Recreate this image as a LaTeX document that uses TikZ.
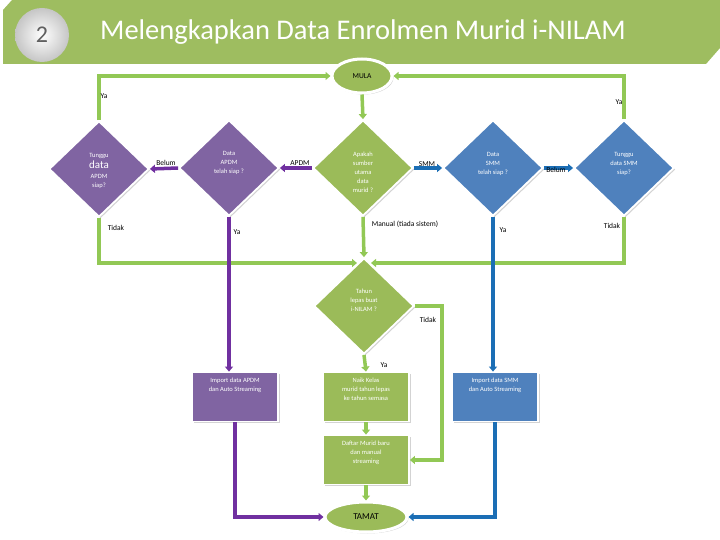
\documentclass[tikz,border=0pt]{standalone}
\usepackage{fontspec}
\setmainfont{Carlito}
\usetikzlibrary{shapes.geometric,arrows.meta,shadows}
\definecolor{bannergreen}{RGB}{158,189,96}
\definecolor{fillgreen}{RGB}{155,187,89}
\definecolor{fillpurple}{RGB}{128,100,162}
\definecolor{fillblue}{RGB}{79,129,189}
\definecolor{linegreen}{RGB}{146,200,85}
\definecolor{linepurple}{RGB}{112,48,160}
\definecolor{lineblue}{RGB}{27,110,181}
\tikzset{
  shp/.style={draw=white, line width=1.8pt, text=white, inner sep=0pt, align=center,
    font=\fontsize{6.5}{8.5}\selectfont,
    drop shadow={shadow xshift=1.5pt, shadow yshift=-1.5pt, opacity=0.35, fill=gray}},
  dia/.style={shp, diamond, minimum width=100pt, minimum height=96pt},
  box/.style={shp, rectangle, minimum width=86pt, minimum height=49pt},
  term/.style={shp, ellipse, fill=fillgreen, text=black, line width=3pt},
  conn/.style={line width=3.5pt, -{Triangle[width=8pt,length=5pt]}},
  gconn/.style={conn, linegreen},
  pconn/.style={conn, linepurple},
  bconn/.style={conn, lineblue},
  lbl/.style={font=\fontsize{7.5}{9}\selectfont, text=black, inner sep=0pt},
  txt/.style={text=white, align=center, inner sep=0pt, font=\fontsize{6.5}{9}\selectfont}
}
\begin{document}
\begin{tikzpicture}[x=1pt,y=-1pt]
\useasboundingbox (0,0) rectangle (720,540);
% banner
\fill[bannergreen] (3,10) -- (12,0) -- (720,0) -- (720,48) -- (706,64) -- (3,64) -- cycle;
\shade[inner color=white, outer color=gray!45] (42,35) circle (27pt);
\node[text=gray!75!black, font=\fontsize{24}{24}\selectfont] (num) at (42,35) {2};
\node[text=white, font=\fontsize{28.5}{28}\selectfont] (title) at (363,32) {Melengkapkan Data Enrolmen Murid i-NILAM};

% terminals
\node[term, minimum width=60pt, minimum height=34pt, font=\fontsize{7.5}{9}\selectfont] (mula) at (362,76) {MULA};
\node[term, minimum width=82pt, minimum height=30pt, font=\fontsize{9}{10}\selectfont] (tamat) at (366,517) {TAMAT};

% diamonds
\node[dia, fill=fillpurple] (ta) at (99,169) {};
\node[txt] (tat) at (99,171) {Tunggu\\[2pt]{\fontsize{11}{12}\selectfont data}\\[1pt]APDM\\siap?};
\node[dia, fill=fillpurple] (da) at (229,168) {};
\node[txt] (dat) at (229,163) {Data\\APDM\\telah siap ?};
\node[dia, fill=fillgreen] (ap) at (363,168) {};
\node[txt] (apt) at (363,172) {Apakah\\sumber\\utama\\data\\murid ?};
\node[dia, fill=fillblue] (ds) at (493,168) {};
\node[txt] (dst) at (493,164) {Data\\SMM\\telah siap ?};
\node[dia, fill=fillblue] (ts) at (624,168) {};
\node[txt] (tst) at (624,164) {Tunggu\\data SMM\\siap?};
\node[dia, fill=fillgreen] (th) at (364,306) {};
\node[txt] (tht) at (364,300) {Tahun\\lepas buat\\i-NILAM ?};

% boxes
\node[box, fill=fillpurple] (ia) at (235,397) {};
\node[txt, anchor=north] (iat) at (235,378) {Import data APDM\\dan Auto Streaming};
\node[box, fill=fillgreen] (nk) at (366,397) {};
\node[txt, anchor=north] (nkt) at (366,378) {Naik Kelas\\murid tahun lepas\\ke tahun semasa};
\node[box, fill=fillblue] (is) at (495,397) {};
\node[txt, anchor=north] (ist) at (495,378) {Import data SMM\\dan Auto Streaming};
\node[box, fill=fillgreen] (df) at (366,460) {};
\node[txt, anchor=north] (dft) at (366,441) {Daftar Murid baru\\dan manual\\streaming};

% coordinates
\coordinate (jl) at (357,263);
\coordinate (jr) at (371,263);
\coordinate (tk) at (442,306);

% green connectors
\draw[gconn] (mula.south) -- (ap.north);
\draw[gconn] (ta.north) |- (mula.west);
\draw[gconn] (ts.north) |- (mula.east);
\draw[gconn] (ta.south) |- (jl);
\draw[gconn] (ts.south) |- (jr);
\draw[gconn] (ap.south) -- (th.north);
\draw[gconn] (th.south) -- (nk.north);
\draw[gconn] (th.east) -- (tk) |- (df.east);
\draw[gconn] (nk.south) -- (df.north);
\draw[gconn] (df.south) -- (tamat.north);

% purple connectors
\draw[pconn] (ap.west) -- (da.east);
\draw[pconn] (da.west) -- (ta.east);
\draw[pconn] (da.south) -- (da.south |- ia.north);
\draw[pconn] (ia.south) |- (tamat.west);

% blue connectors
\draw[bconn] (ap.east) -- (ds.west);
\draw[bconn] (ds.east) -- (ts.west);
\draw[bconn] (ds.south) -- (ds.south |- is.north);
\draw[bconn] (is.south) |- (tamat.east);

% labels
\node[lbl] (l1) at (104,96) {Ya};
\node[lbl] (l2) at (619,102) {Ya};
\node[lbl] (l3) at (166,163) {Belum};
\node[lbl] (l4) at (300,163) {APDM};
\node[lbl] (l5) at (427,164) {SMM};
\node[lbl] (l6) at (556,170) {Belum};
\node[lbl] (l7) at (116,228) {Tidak};
\node[lbl] (l8) at (237,232) {Ya};
\node[lbl] (l9) at (405,224) {Manual (tiada sistem)};
\node[lbl] (l10) at (503,230) {Ya};
\node[lbl] (l11) at (612,226) {Tidak};
\node[lbl] (l12) at (428,320) {Tidak};
\node[lbl] (l13) at (384,365) {Ya};
\end{tikzpicture}
\end{document}
